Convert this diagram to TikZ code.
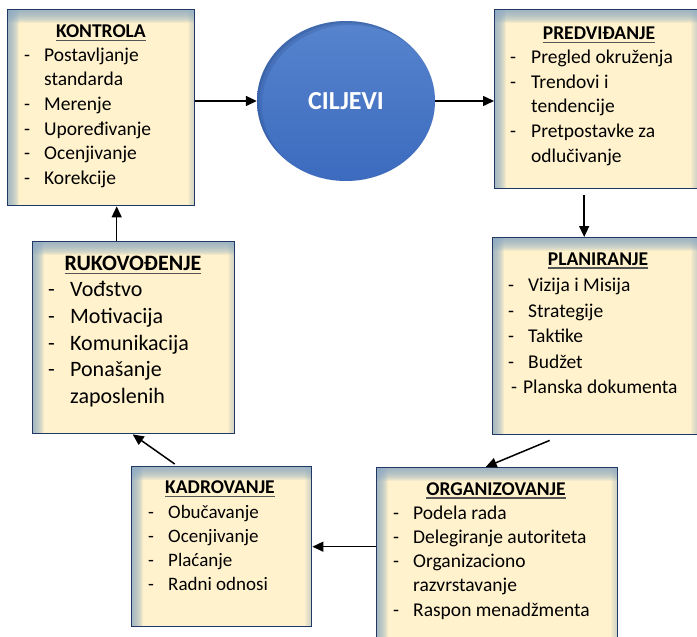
\documentclass[tikz,border=0pt]{standalone}
\usepackage{fontspec}
\setmainfont{Carlito}
\usetikzlibrary{arrows.meta,shapes.geometric}

\definecolor{boxfill}{HTML}{FFF2CC}
\definecolor{boxline}{HTML}{203864}
\definecolor{boxshade}{HTML}{8FABC2}
\definecolor{goaltop}{HTML}{5784CD}
\definecolor{goalbottom}{HTML}{3C6BBF}
\definecolor{goalrim}{HTML}{1F3F7A}
\definecolor{ulgray}{HTML}{555555}

\tikzset{
  % cream box with a soft inner shadow built from stacked translucent bands
  stagebox/.style={draw=boxline, line width=1.4pt, fill=boxfill, anchor=north west,
    inner sep=0pt, rectangle,
    path picture={
      \foreach \d in {1,...,13}
        \fill[boxshade, opacity=0.12]
          (path picture bounding box.north west) rectangle ([yshift=-\d pt]path picture bounding box.north east);
      \foreach \d in {1,...,11}
        \fill[boxshade, opacity=0.12]
          (path picture bounding box.north west) rectangle ([xshift=\d pt]path picture bounding box.south west);
      \foreach \d in {1,...,7}
        \fill[boxshade, opacity=0.07]
          ([xshift=-\d pt]path picture bounding box.north east) rectangle (path picture bounding box.south east);
    }},
  goal/.style={ellipse, minimum width=178pt, minimum height=160pt, inner sep=0pt,
    top color=goaltop, bottom color=goalbottom, text=white,
    font=\fontsize{26}{30}\selectfont\bfseries,
    path picture={
      \fill[goalrim, opacity=0.22, even odd rule]
        (path picture bounding box.center) ellipse [x radius=89pt, y radius=80pt]
        ([xshift=2pt,yshift=-2pt]path picture bounding box.center) ellipse [x radius=89pt, y radius=80pt];
      \fill[goalrim, opacity=0.18, even odd rule]
        (path picture bounding box.center) ellipse [x radius=89pt, y radius=80pt]
        ([xshift=5pt,yshift=-4pt]path picture bounding box.center) ellipse [x radius=89pt, y radius=80pt];
    }},
  heading/.style={anchor=base, inner sep=0pt, font=\fontsize{19.5}{24}\selectfont\bfseries},
  bigheading/.style={heading, font=\fontsize{22}{26}\selectfont\bfseries},
  items/.style={anchor=base west, inner sep=0pt, align=left},
  headrule/.style={draw=ulgray, line width=1.1pt},
  arr/.style={-{Triangle[length=11pt,width=10pt]}, line width=1.5pt, black},
}

\newcommand\underhead[1]{\draw[headrule] ([yshift=-3pt]#1.base west) -- ([yshift=-3pt]#1.base east);}

\begin{document}
\begin{tikzpicture}[x=1pt, y=-1pt]
\useasboundingbox (0,0) rectangle (697,637);
\clip (0,0) rectangle (697,637);

% ---- stage boxes ----
\node[stagebox, minimum width=187pt, minimum height=196pt] (kontrola) at (7,9) {};
\node[stagebox, minimum width=203pt, minimum height=179pt] (predv) at (494,9) {};
\node[stagebox, minimum width=205pt, minimum height=197pt] (plan) at (492,237) {};
\node[stagebox, minimum width=202pt, minimum height=192pt] (ruk) at (32,241) {};
\node[stagebox, minimum width=180pt, minimum height=160pt] (kadr) at (131,466) {};
\node[stagebox, minimum width=241pt, minimum height=182pt] (org) at (376,467) {};

% ---- goal ----
\node[goal] (cilj) at (346,101) {CILJEVI};

% ---- KONTROLA ----
\node[heading] (kontrolaT) at (101,37.3) {KONTROLA};
\underhead{kontrolaT}
\node[items, font=\fontsize{19.5}{24.7}\selectfont] (kontrolaL) at (24,61)
  {\begin{tabular}[t]{@{}p{20pt}@{}l@{}}
   - & Postavljanje\\
     & standarda\\
   - & Merenje\\
   - & Upoređivanje\\
   - & Ocenjivanje\\
   - & Korekcije
   \end{tabular}};

% ---- PREDVIĐANJE ----
\node[heading] (predvT) at (599,39.3) {PREDVIĐANJE};
\underhead{predvT}
\node[items, font=\fontsize{19.5}{24.8}\selectfont] (predvL) at (510,63.3)
  {\begin{tabular}[t]{@{}p{21pt}@{}l@{}}
   - & Pregled okruženja\\
   - & Trendovi i\\
     & tendencije\\
   - & Pretpostavke za\\
     & odlučivanje
   \end{tabular}};

% ---- PLANIRANJE ----
\node[heading] (planT) at (598,265) {PLANIRANJE};
\underhead{planT}
\node[items, font=\fontsize{19.5}{25.5}\selectfont] (planL) at (508,291.7)
  {\begin{tabular}[t]{@{}p{20pt}@{}l@{}}
   - & Vizija i Misija\\
   - & Strategije\\
   - & Taktike\\
   - & Budžet\\
   \multicolumn{2}{@{}l@{}}{\hspace{3pt}-\hspace{6pt}Planska dokumenta}
   \end{tabular}};

% ---- RUKOVOĐENJE ----
\node[bigheading] (rukT) at (133,270.7) {RUKOVOĐENJE};
\underhead{rukT}
\node[items, font=\fontsize{22}{26.7}\selectfont] (rukL) at (48,296.7)
  {\begin{tabular}[t]{@{}p{22pt}@{}l@{}}
   - & Vođstvo\\
   - & Motivacija\\
   - & Komunikacija\\
   - & Ponašanje\\
     & zaposlenih
   \end{tabular}};

% ---- KADROVANJE ----
\node[heading] (kadrT) at (220,493.3) {KADROVANJE};
\underhead{kadrT}
\node[items, font=\fontsize{19}{24}\selectfont] (kadrL) at (148,518.3)
  {\begin{tabular}[t]{@{}p{20pt}@{}l@{}}
   - & Obučavanje\\
   - & Ocenjivanje\\
   - & Plaćanje\\
   - & Radni odnosi
   \end{tabular}};

% ---- ORGANIZOVANJE ----
\node[heading] (orgT) at (496,495) {ORGANIZOVANJE};
\underhead{orgT}
\node[items, font=\fontsize{19.5}{24.3}\selectfont] (orgL) at (393,519)
  {\begin{tabular}[t]{@{}p{20pt}@{}l@{}}
   - & Podela rada\\
   - & Delegiranje autoriteta\\
   - & Organizaciono\\
     & razvrstavanje\\
   - & Raspon menadžmenta
   \end{tabular}};

% ---- cycle of arrows ----
\draw[arr] (kontrola.east |- cilj.west) -- (cilj.west);
\draw[arr] (cilj.east) -- (predv.west |- cilj.east);
\coordinate (p1) at ([xshift=-12pt,yshift=-6pt]predv.south);
\draw[arr] (p1) -- (p1 |- plan.north);
\draw[arr] ([xshift=-45.5pt,yshift=-5pt]plan.south) -- ([xshift=-11.5pt]org.north);
\draw[arr] (org.west |- kadr.east) -- (kadr.east);
\draw[arr] ([xshift=-47pt,yshift=2pt]kadr.north) -- ([xshift=-1pt]ruk.south);
\coordinate (p2) at ([xshift=-17pt]ruk.north);
\draw[arr] (p2) -- (p2 |- kontrola.south);
\end{tikzpicture}
\end{document}
